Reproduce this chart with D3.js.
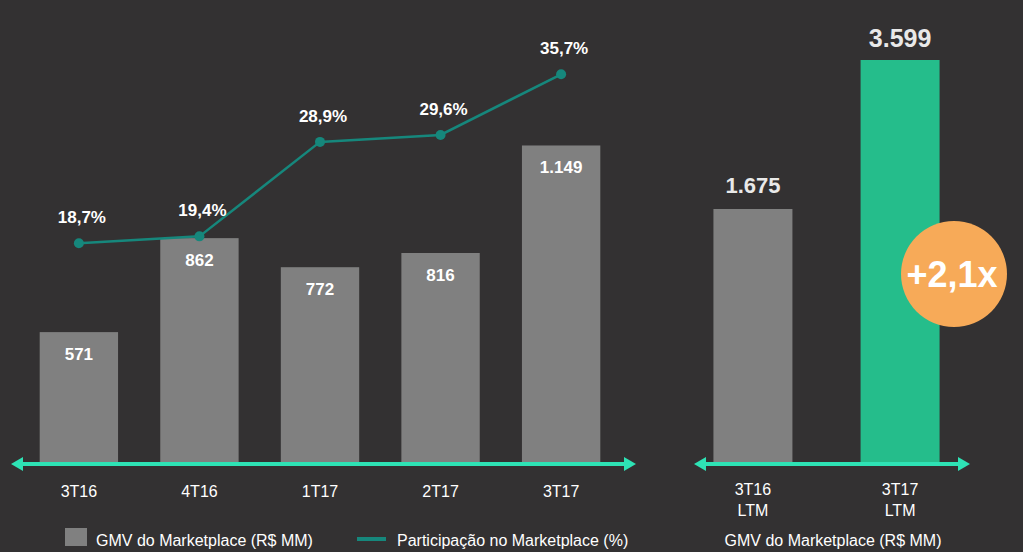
<!DOCTYPE html>
<html><head><meta charset="utf-8">
<script src="https://cdn.jsdelivr.net/npm/d3@7"></script>
<style>html,body{margin:0;padding:0;background:#333132;}svg{display:block;}</style>
</head><body>
<svg id="c" width="1023" height="552"></svg>
<script>
const quarters = ["3T16","4T16","1T17","2T17","3T17"];
const gmv = [571, 862, 772, 816, 1149];
const gmvLabels = ["571","862","772","816","1.149"];
const share = [18.7, 19.4, 28.9, 29.6, 35.7];
const shareLabels = ["18,7%","19,4%","28,9%","29,6%","35,7%"];
const ltmCats = [["3T16","LTM"],["3T17","LTM"]];
const ltmValues = [1675, 3599];
const ltmLabels = ["1.675","3.599"];
const growthLabel = "+2,1x";
const legendBar = "GMV do Marketplace (R$ MM)";
const legendLine = "Participação no Marketplace (%)";
const rightTitle = "GMV do Marketplace (R$ MM)";

const svg = d3.select("#c");
const W = 1023, H = 552;
svg.append("rect").attr("width",W).attr("height",H).attr("fill","#333132");
const font = "'Liberation Sans', Arial, sans-serif";
const base = 462;

// left panel
const x = d3.scaleBand().domain(quarters).range([18, 622]).paddingInner(0.35).paddingOuter(0.18);
const y = d3.scaleLinear().domain([0, 1200]).range([516.5, 129]);
const yp = d3.scaleLinear().domain([0, 40]).range([429.3, 31.5]);

svg.append("g").selectAll("rect").data(quarters).join("rect")
  .attr("x", d=>x(d)).attr("width", x.bandwidth())
  .attr("y", (d,i)=>y(gmv[i])).attr("height", (d,i)=>base - y(gmv[i]))
  .attr("fill","#808080");
svg.append("g").selectAll("text").data(quarters).join("text")
  .attr("x", d=>x(d)+x.bandwidth()/2).attr("y",(d,i)=>y(gmv[i])+28)
  .attr("text-anchor","middle").attr("fill","#ffffff").attr("font-family",font)
  .attr("font-weight","bold").attr("font-size",17).text((d,i)=>gmvLabels[i]);

const line = d3.line().x((d,i)=>x(quarters[i])+x.bandwidth()/2).y(d=>yp(d));
svg.append("path").datum(share).attr("d",line).attr("fill","none")
  .attr("stroke","#16877c").attr("stroke-width",2.5);
svg.append("g").selectAll("circle").data(share).join("circle")
  .attr("cx",(d,i)=>x(quarters[i])+x.bandwidth()/2).attr("cy",d=>yp(d)).attr("r",5)
  .attr("fill","#16877c");
svg.append("g").selectAll("text").data(share).join("text")
  .attr("x",(d,i)=>x(quarters[i])+x.bandwidth()/2+3).attr("y",d=>yp(d)-20)
  .attr("text-anchor","middle").attr("fill","#ffffff").attr("font-family",font)
  .attr("font-weight","bold").attr("font-size",17).text((d,i)=>shareLabels[i]);

// x labels
svg.append("g").selectAll("text").data(quarters).join("text")
  .attr("x", d=>x(d)+x.bandwidth()/2).attr("y",497)
  .attr("text-anchor","middle").attr("fill","#ffffff").attr("font-family",font)
  .attr("font-size",16).text(d=>d);

function arrow(x1, x2, yy){
  const g = svg.append("g");
  g.append("line").attr("x1",x1+8).attr("x2",x2-8).attr("y1",yy).attr("y2",yy)
    .attr("stroke","#2ee3b5").attr("stroke-width",4);
  g.append("path").attr("d",`M${x1},${yy} L${x1+12},${yy-7} L${x1+12},${yy+7} Z`).attr("fill","#2ee3b5");
  g.append("path").attr("d",`M${x2},${yy} L${x2-12},${yy-7} L${x2-12},${yy+7} Z`).attr("fill","#2ee3b5");
}
arrow(11, 636, 464);

// right panel
const xr = d3.scaleBand().domain(ltmCats.map(d=>d[0])).range([672, 981]).paddingInner(0.9).paddingOuter(0.5);
const yr = d3.scaleLinear().domain([-1592, 3599]).range([base, 60]);
const bw = 79;
const cx = d => xr(d) + xr.bandwidth()/2;
const rcols = ["#808080","#25bd8b"];
svg.append("g").selectAll("rect").data(ltmCats).join("rect")
  .attr("x", d=>cx(d[0])-bw/2).attr("width", bw)
  .attr("y",(d,i)=>yr(ltmValues[i])).attr("height",(d,i)=>base-yr(ltmValues[i]))
  .attr("fill",(d,i)=>rcols[i]);
svg.append("g").selectAll("text").data(ltmCats).join("text")
  .attr("x",d=>cx(d[0])).attr("y",(d,i)=>yr(ltmValues[i])-[16,13][i])
  .attr("text-anchor","middle").attr("fill","#e9e9e9").attr("font-family",font)
  .attr("font-weight","bold").attr("font-size",(d,i)=>[22,25][i]).text((d,i)=>ltmLabels[i]);
arrow(694, 970, 464);
const lg = svg.append("g").selectAll("text").data(ltmCats).join("text")
  .attr("text-anchor","middle").attr("fill","#ffffff").attr("font-family",font).attr("font-size",16);
lg.append("tspan").attr("x",d=>cx(d[0])).attr("y",495).text(d=>d[0]);
lg.append("tspan").attr("x",d=>cx(d[0])).attr("y",516).text(d=>d[1]);
svg.append("text").attr("x",833).attr("y",546).attr("text-anchor","middle")
  .attr("fill","#ffffff").attr("font-family",font).attr("font-size",16).text(rightTitle);

// bubble
svg.append("circle").attr("cx",954).attr("cy",274).attr("r",53).attr("fill","#f7aa58");
svg.append("text").attr("x",952).attr("y",287).attr("text-anchor","middle")
  .attr("fill","#ffffff").attr("font-family",font).attr("font-weight","bold")
  .attr("font-size",36).text(growthLabel);

// legend
svg.append("rect").attr("x",65).attr("y",528).attr("width",22).attr("height",18).attr("fill","#808080");
svg.append("text").attr("x",96).attr("y",546).attr("fill","#ffffff").attr("font-family",font)
  .attr("font-size",16).text(legendBar);
svg.append("line").attr("x1",357).attr("x2",386).attr("y1",539).attr("y2",539)
  .attr("stroke","#16877c").attr("stroke-width",4);
svg.append("text").attr("x",397).attr("y",546).attr("fill","#ffffff").attr("font-family",font)
  .attr("font-size",16).text(legendLine);
</script>
</body></html>
